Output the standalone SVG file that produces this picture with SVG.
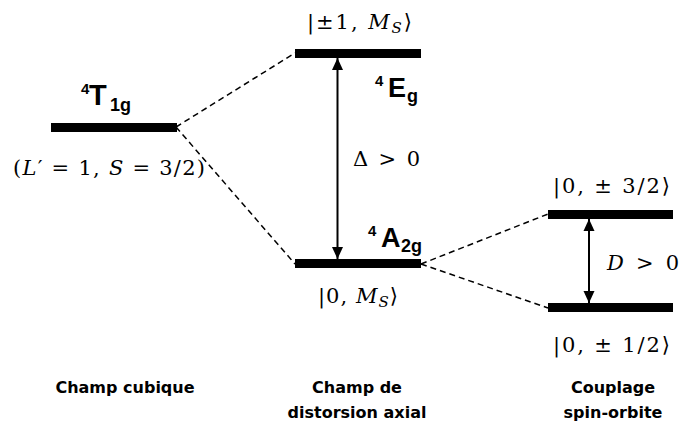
<svg xmlns="http://www.w3.org/2000/svg" width="681" height="431" viewBox="0 0 681 431">
<defs>
<marker id="ah" viewBox="0 0 12 12" refX="12" refY="6" markerWidth="12" markerHeight="12" markerUnits="userSpaceOnUse" orient="auto-start-reverse">
<path d="M0,0.5 L12,6 L0,11.5 z" fill="#000"/>
</marker>
<style>
.bar{fill:#000}
.dash{stroke:#000;stroke-width:1.5;stroke-dasharray:6 4;fill:none}
.arr{stroke:#000;stroke-width:2;fill:none;marker-start:url(#ah);marker-end:url(#ah)}
.math{font-family:"DejaVu Serif","Liberation Serif",serif;font-size:21px;fill:#000}
.term{font-family:"Liberation Sans",Arial,sans-serif;font-weight:bold;fill:#000}
.lab{font-family:"DejaVu Sans",sans-serif;font-weight:bold;font-size:16px;fill:#000;text-anchor:middle}
</style>
</defs>
<rect width="681" height="431" fill="#fff"/>
<g id="connectors">
<line class="dash" x1="176" y1="127" x2="295" y2="53"/>
<line class="dash" x1="176" y1="127" x2="295" y2="264"/>
<line class="dash" x1="421" y1="264" x2="548" y2="214"/>
<line class="dash" x1="421" y1="264" x2="548" y2="308"/>
<line class="arr" x1="337.5" y1="58" x2="337.5" y2="259"/>
<line class="arr" x1="589" y1="219" x2="589" y2="303"/>
</g>
<g id="T1g">
<rect class="bar" x="51" y="123" width="126" height="9"/>
<text class="term"><tspan x="81" y="94" font-size="15">4</tspan><tspan x="89" y="105" font-size="29">T</tspan><tspan x="110" y="111" font-size="18">1g</tspan></text>
<text class="math" x="13" y="175" textLength="192" lengthAdjust="spacing">(<tspan font-style="italic">L</tspan>′ = 1, <tspan font-style="italic">S</tspan> = 3/2)</text>
</g>
<g id="Eg">
<rect class="bar" x="295" y="49" width="126" height="9"/>
<text class="math" x="307" y="29" textLength="105" lengthAdjust="spacing">|±1, <tspan font-style="italic">M</tspan><tspan font-style="italic" font-size="15" dy="4">S</tspan><tspan dy="-4">⟩</tspan></text>
<text class="term"><tspan x="375" y="86" font-size="15">4</tspan><tspan x="388" y="97" font-size="27">E</tspan></text>
<text class="term" x="407" y="102" font-size="18">g</text>
</g>
<g id="A2g">
<rect class="bar" x="295" y="259" width="126" height="9"/>
<text class="term"><tspan x="368" y="236" font-size="15">4</tspan><tspan x="381" y="247" font-size="27">A</tspan><tspan x="401" y="252" font-size="18">2g</tspan></text>
<text class="math" x="318" y="303" textLength="80" lengthAdjust="spacing">|0, <tspan font-style="italic">M</tspan><tspan font-style="italic" font-size="15" dy="4">S</tspan><tspan dy="-4">⟩</tspan></text>
</g>
<g id="delta">
<text class="math" x="353" y="166" textLength="67" lengthAdjust="spacing">Δ &gt; 0</text>
</g>
<g id="m32">
<rect class="bar" x="548" y="210" width="125" height="9"/>
<text class="math" x="553" y="193" textLength="117" lengthAdjust="spacing">|0, ± 3/2⟩</text>
</g>
<g id="m12">
<rect class="bar" x="548" y="303" width="125" height="9"/>
<text class="math" x="553" y="352" textLength="117" lengthAdjust="spacing">|0, ± 1/2⟩</text>
</g>
<g id="dlabel">
<text class="math" x="607" y="270" textLength="72" lengthAdjust="spacing"><tspan font-style="italic">D</tspan> &gt; 0</text>
</g>
<g id="labels">
<text class="lab" x="125" y="393">Champ cubique</text>
<text class="lab" x="357" y="393">Champ de</text>
<text class="lab" x="357" y="418">distorsion axial</text>
<text class="lab" x="613" y="393">Couplage</text>
<text class="lab" x="613" y="418">spin-orbite</text>
</g>
</svg>
